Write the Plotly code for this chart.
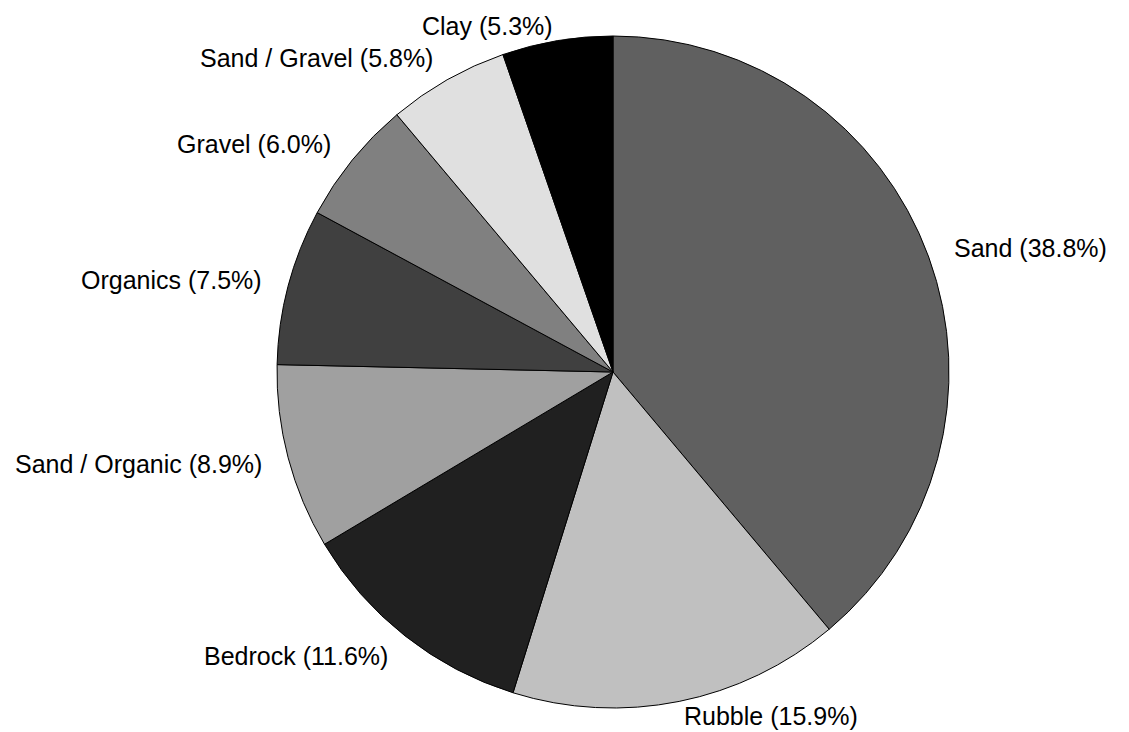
import math
import plotly.graph_objects as go

# Share of each substrate type (percent)
substrates = ["Sand", "Rubble", "Bedrock", "Sand / Organic", "Organics",
              "Gravel", "Sand / Gravel", "Clay"]
shares = [38.8, 15.9, 11.6, 8.9, 7.5, 6.0, 5.8, 5.3]
greys = ["#606060", "#c0c0c0", "#202020", "#a0a0a0", "#404040",
         "#808080", "#e0e0e0", "#000000"]

W, H = 1129, 732
cx, cy, r = 613, 372, 336          # pie centre and radius in pixels
label_font = dict(family="Liberation Sans, Arial, sans-serif", size=25, color="#000000")

fig = go.Figure(go.Pie(
    labels=substrates,
    values=shares,
    sort=False,
    direction="clockwise",
    rotation=0,
    marker=dict(colors=greys, line=dict(color="#000000", width=1)),
    textinfo="none",
    hoverinfo="label+value",
    domain=dict(x=[(cx - r) / W, (cx + r) / W], y=[(H - cy - r) / H, (H - cy + r) / H]),
    showlegend=False,
))

# Outside labels: placed just beyond the rim at each slice's mid-angle
total = sum(shares)
running = 0.0
for name, v in zip(substrates, shares):
    theta = 2 * math.pi * (running + v / 2) / total   # clockwise from 12 o'clock
    running += v
    s, c = math.sin(theta), math.cos(theta)
    gap = 15 if abs(c) > 0.9 else 25
    xanchor = "left" if s > 0 else "right"
    px = cx + (r + gap) * s
    py = cy - (r + gap) * c
    fig.add_annotation(
        x=px / W, y=1 - py / H, xref="paper", yref="paper",
        text=f"{name} ({v:.1f}%)", showarrow=False,
        xanchor=xanchor, yanchor="middle", font=label_font,
    )

fig.update_layout(
    width=W, height=H,
    margin=dict(l=0, r=0, t=0, b=0),
    paper_bgcolor="#ffffff",
    plot_bgcolor="#ffffff",
)

fig.write_html("out.html")
